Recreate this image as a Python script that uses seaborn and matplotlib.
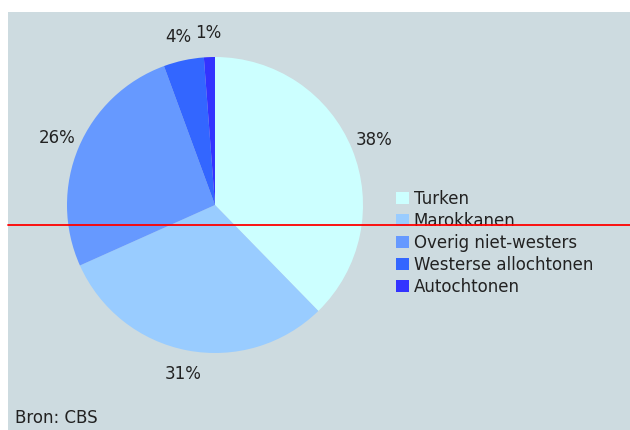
import matplotlib
matplotlib.use("Agg")
import matplotlib.pyplot as plt
import seaborn as sns
from matplotlib.lines import Line2D

groups = ["Turken", "Marokkanen", "Overig niet-westers", "Westerse allochtonen", "Autochtonen"]
shares = [37.7, 30.6, 26.1, 4.4, 1.2]
pct_labels = ["38%", "31%", "26%", "4%", "1%"]
source = "Bron: CBS"

colors = ["#ccffff", "#99ccff", "#6699ff", "#3366ff", "#3333ff"]
panel_bg = "#cddbe0"

sns.set_theme(style="white")
plt.rcParams["font.family"] = ["DejaVu Sans"]

W, H = 630, 430
fig = plt.figure(figsize=(W / 100, H / 100), dpi=100)
fig.patch.set_facecolor("white")

# grey panel behind the chart
bg = fig.add_axes([8 / W, 0, 1 - 8 / W, 1 - 12 / H], zorder=0)
bg.set_facecolor(panel_bg)
bg.set_xticks([])
bg.set_yticks([])
for s in bg.spines.values():
    s.set_visible(False)

cx, cy, r = 215, 205, 148
ax = fig.add_axes([(cx - r) / W, (H - cy - r) / H, 2 * r / W, 2 * r / H], zorder=1)
ax.set_facecolor("none")
wedges, texts = ax.pie(shares, labels=pct_labels, colors=colors, startangle=90,
                       counterclock=False, labeldistance=1.16, radius=1,
                       wedgeprops=dict(linewidth=0),
                       textprops=dict(fontsize=12, color="#222222"))
for t in texts:
    t.set_ha("center")
    t.set_va("center")
ax.set_xlim(-1, 1)
ax.set_ylim(-1, 1)
ax.set_aspect("equal")
ax.axis("off")

leg = fig.legend(wedges, groups, loc="upper left",
                 bbox_to_anchor=(396 / W, 1 - 190 / H),
                 frameon=False, fontsize=12, handlelength=0.75, handleheight=0.75,
                 handletextpad=0.3, labelspacing=0.24, borderaxespad=0,
                 borderpad=0)
leg.set_zorder(2)
for t in leg.get_texts():
    t.set_color("#222222")

fig.text(15 / W, 1 - 418 / H, source, fontsize=12, color="#222222",
         ha="left", va="center", zorder=2)

# red horizontal line across the panel, as in the reference
fig.lines.append(Line2D([8 / W, 1], [1 - 225 / H, 1 - 225 / H],
                        transform=fig.transFigure, color="red", linewidth=1.3,
                        zorder=3))

fig.savefig("out.png", dpi=100, facecolor=fig.get_facecolor())
